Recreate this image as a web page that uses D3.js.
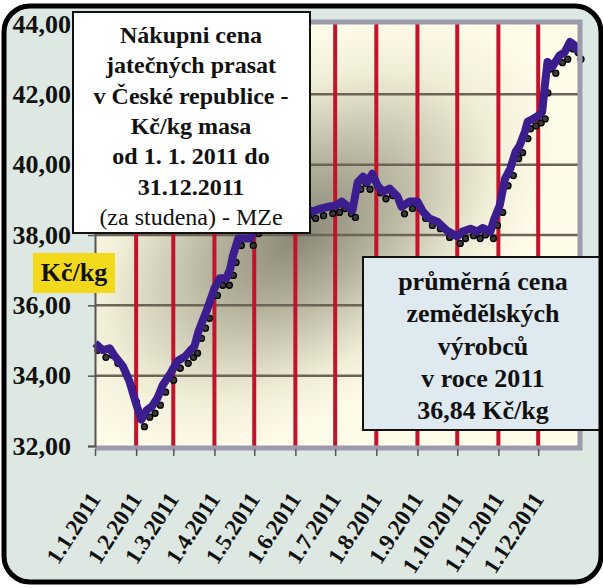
<!DOCTYPE html>
<html lang="cs">
	<head>
		<meta charset="utf-8">
		<title>Nákupní cena jatečných prasat 2011</title>
		<script type="text/javascript" src="https://cdn.jsdelivr.net/npm/d3@7"></script>
		<style type="text/css">
			body { margin: 0; background: #ffffff; }
			text { font-family: "Liberation Serif", "Times New Roman", serif; font-weight: bold; fill: #111; }
		</style>
	</head>
	<body>
		<script type="text/javascript">

			//Width and height
			var w = 603;
			var h = 588;

			//month tick labels
			var monthLabels = ["1.1.2011", "1.2.2011", "1.3.2011", "1.4.2011", "1.5.2011", "1.6.2011",
							   "1.7.2011", "1.8.2011", "1.9.2011", "1.10.2011", "1.11.2011", "1.12.2011"];
			var monthStarts = ["2011-01-01", "2011-02-01", "2011-03-01", "2011-04-01", "2011-05-01", "2011-06-01",
							   "2011-07-01", "2011-08-01", "2011-09-01", "2011-10-01", "2011-11-01", "2011-12-01"];

			var yTicks = [32, 34, 36, 38, 40, 42, 44];

			//price, Kč/kg (a few days apart)
			var priceDates = ["2011-01-01", "2011-01-07", "2011-01-12", "2011-01-16", "2011-01-22", "2011-01-27", "2011-01-30",
							  "2011-02-02", "2011-02-05", "2011-02-09", "2011-02-13", "2011-02-17", "2011-02-21", "2011-02-27",
							  "2011-03-04", "2011-03-10", "2011-03-14", "2011-03-17", "2011-03-20", "2011-03-23", "2011-03-26",
							  "2011-04-01", "2011-04-05", "2011-04-10", "2011-04-13", "2011-04-15", "2011-04-19", "2011-04-28",
							  "2011-05-02", "2011-05-04", "2011-05-09", "2011-05-14", "2011-05-19", "2011-05-24", "2011-05-30",
							  "2011-06-04", "2011-06-09", "2011-06-14", "2011-06-20", "2011-06-27",
							  "2011-07-02", "2011-07-06", "2011-07-11", "2011-07-14", "2011-07-18", "2011-07-22", "2011-07-25", "2011-07-29",
							  "2011-08-02", "2011-08-06", "2011-08-11", "2011-08-17", "2011-08-20", "2011-08-26",
							  "2011-09-01", "2011-09-05", "2011-09-10", "2011-09-16", "2011-09-23",
							  "2011-10-01", "2011-10-05", "2011-10-11", "2011-10-16", "2011-10-20", "2011-10-26", "2011-10-29",
							  "2011-11-02", "2011-11-06", "2011-11-10", "2011-11-14", "2011-11-17", "2011-11-21", "2011-11-23", "2011-11-27",
							  "2011-12-01", "2011-12-04", "2011-12-06", "2011-12-08", "2011-12-12", "2011-12-17", "2011-12-21", "2011-12-25",
							  "2011-12-29", "2011-12-31"];
			var prices = [34.92, 34.72, 34.78, 34.55, 34.27, 33.84, 33.45,
						  33.08, 32.75, 33.02, 33.13, 33.36, 33.73, 34.07,
						  34.41, 34.55, 34.72, 34.84, 35.26, 35.55, 35.83,
						  36.48, 36.77, 36.77, 37.05, 37.42, 37.90, 37.90,
						  38.24, 38.67, 38.75, 38.80, 38.72, 38.78, 38.85,
						  38.80, 38.75, 38.67, 38.75, 38.81,
						  38.84, 38.95, 38.80, 38.70, 39.50, 39.66, 39.50, 39.74,
						  39.40, 39.23, 39.32, 39.09, 38.80, 38.95,
						  38.95, 38.67, 38.47, 38.38, 38.13,
						  37.96, 38.10, 38.18, 38.10, 38.20, 38.10, 38.47,
						  38.84, 39.60, 39.89, 40.37, 40.54, 40.94, 41.22, 41.30,
						  41.39, 41.50, 42.24, 42.92, 42.80, 43.10, 43.20, 43.49,
						  43.38, 43.20];

			var titleLines = ["Nákupni cena", "jatečných prasat", "v České republice -", "Kč/kg masa",
							  "od 1. 1. 2011 do", "31.12.2011", "(za studena) - MZe"];
			var noteLines = ["průměrná cena", "zemědělských", "výrobců", "v roce 2011", "36,84 Kč/kg"];

			var parseDate = d3.timeParse("%Y-%m-%d");
			var data = priceDates.map(function(d, i) {
				return { date: parseDate(d), value: prices[i] };
			});

			//Create SVG element
			var svg = d3.select("body")
						.append("svg")
						.attr("width", w)
						.attr("height", h);

			var xScale = d3.scaleTime()
						   .domain([parseDate("2011-01-01"), parseDate("2011-12-31")])
						   .range([95, 578]);

			var yScale = d3.scaleLinear()
						   .domain([32, 44])
						   .range([446, 24]);

			var x0 = xScale.range()[0], x1 = xScale.range()[1];
			var yTop = yScale(44), yBot = yScale(32);

			//gradient for the shaded plot background
			var defs = svg.append("defs");
			var grad = defs.append("radialGradient")
						   .attr("id", "shade")
						   .attr("gradientUnits", "userSpaceOnUse")
						   .attr("cx", 300).attr("cy", 235).attr("r", 230)
						   .attr("gradientTransform", "translate(300,235) rotate(-35) scale(1.25,0.75) translate(-300,-235)");
			grad.append("stop").attr("offset", "0%").attr("stop-color", "#8a8775");
			grad.append("stop").attr("offset", "35%").attr("stop-color", "#b6b39f");
			grad.append("stop").attr("offset", "75%").attr("stop-color", "#f0edd7");
			grad.append("stop").attr("offset", "100%").attr("stop-color", "#fffbe9");

			//outer background
			svg.append("rect")
			   .attr("x", 4).attr("y", 6)
			   .attr("width", 597).attr("height", 576)
			   .attr("rx", 26)
			   .attr("fill", "#dde8e3");

			//plot background
			svg.append("rect")
			   .attr("x", x0).attr("y", yTop)
			   .attr("width", x1 - x0).attr("height", yBot - yTop)
			   .attr("fill", "url(#shade)");

			//horizontal grid
			svg.selectAll("line.grid")
			   .data(yTicks.slice(1, -1))
			   .enter()
			   .append("line")
			   .attr("class", "grid")
			   .attr("x1", x0).attr("x2", x1)
			   .attr("y1", function(d) { return yScale(d); })
			   .attr("y2", function(d) { return yScale(d); })
			   .attr("stroke", "#6d6457")
			   .attr("stroke-width", 2.5);

			//red month lines
			svg.selectAll("line.month")
			   .data(monthStarts.slice(1))
			   .enter()
			   .append("line")
			   .attr("class", "month")
			   .attr("x1", function(d) { return xScale(parseDate(d)); })
			   .attr("x2", function(d) { return xScale(parseDate(d)); })
			   .attr("y1", yTop).attr("y2", yBot)
			   .attr("stroke", "#c2132b")
			   .attr("stroke-width", 4);

			//markers, sitting a little under the line
			svg.append("g")
			   .attr("transform", "translate(3,7)")
			   .selectAll("circle")
			   .data(data)
			   .enter()
			   .append("circle")
			   .attr("cx", function(d) { return xScale(d.date); })
			   .attr("cy", function(d) { return yScale(d.value); })
			   .attr("r", 3)
			   .attr("fill", "#3a3a3a")
			   .attr("stroke", "#000")
			   .attr("stroke-width", 1.3);

			var line = d3.line()
						 .x(function(d) { return xScale(d.date); })
						 .y(function(d) { return yScale(d.value); });

			svg.append("path")
			   .datum(data)
			   .attr("d", line)
			   .attr("fill", "none")
			   .attr("stroke", "#3b1d8e")
			   .attr("stroke-width", 8)
			   .attr("stroke-linejoin", "round");

			//plot frame (grey, top/right/bottom)
			svg.append("path")
			   .attr("d", "M" + x0 + "," + (yTop - 2) + "H" + (x1 + 2) + "V" + (yBot + 2) + "H" + x0)
			   .attr("fill", "none")
			   .attr("stroke", "#9b9bab")
			   .attr("stroke-width", 5);

			//y axis
			var yAxis = d3.axisLeft(yScale)
						  .tickValues(yTicks)
						  .tickSize(7)
						  .tickPadding(17)
						  .tickFormat(function(d) { return d3.format(".2f")(d).replace(".", ","); });
			var gy = svg.append("g")
						.attr("transform", "translate(" + x0 + ",0)")
						.call(yAxis);
			gy.select(".domain").attr("stroke", "#555").attr("stroke-width", 2);
			gy.selectAll(".tick line").attr("stroke", "#555").attr("stroke-width", 1.5);
			gy.selectAll(".tick text")
			  .attr("font-size", "26px")
			  .attr("font-family", "Liberation Serif, Times New Roman, serif")
			  .attr("font-weight", "bold")
			  .attr("fill", "#111");

			//x axis
			var xAxis = d3.axisBottom(xScale)
						  .tickValues(monthStarts.map(parseDate))
						  .tickSize(7)
						  .tickFormat(function(d, i) { return monthLabels[i]; });
			var gx = svg.append("g")
						.attr("transform", "translate(0," + (yBot + 3) + ")")
						.call(xAxis);
			gx.select(".domain").remove();
			gx.selectAll(".tick line").attr("stroke", "#555").attr("stroke-width", 1.5);
			gx.selectAll(".tick text")
			  .attr("font-size", "23px")
			  .attr("font-family", "Liberation Serif, Times New Roman, serif")
			  .attr("font-weight", "bold")
			  .attr("fill", "#111")
			  .attr("text-anchor", "end")
			  .attr("dy", null)
			  .attr("y", 0)
			  .attr("transform", "translate(6,50) rotate(-57)");

			//unit label
			svg.append("rect")
			   .attr("x", 33).attr("y", 253)
			   .attr("width", 82).attr("height", 40)
			   .attr("fill", "#f3d91c");
			svg.append("text")
			   .attr("x", 74).attr("y", 281)
			   .attr("text-anchor", "middle")
			   .attr("font-size", "26px")
			   .text("Kč/kg");

			//title box
			svg.append("rect")
			   .attr("x", 73).attr("y", 12)
			   .attr("width", 237).attr("height", 221)
			   .attr("fill", "#ffffff")
			   .attr("stroke", "#111")
			   .attr("stroke-width", 2);
			svg.selectAll("text.title")
			   .data(titleLines)
			   .enter()
			   .append("text")
			   .attr("class", "title")
			   .attr("x", 191)
			   .attr("y", function(d, i) { return 43 + i * 30.3; })
			   .attr("text-anchor", "middle")
			   .attr("font-size", "24px")
			   .style("font-weight", function(d, i) { return i === titleLines.length - 1 ? "normal" : "bold"; })
			   .text(function(d) { return d; });

			//average price box
			svg.append("rect")
			   .attr("x", 363).attr("y", 257)
			   .attr("width", 245).attr("height", 173)
			   .attr("fill", "#dfeaf0")
			   .attr("stroke", "#111")
			   .attr("stroke-width", 2);
			svg.selectAll("text.note")
			   .data(noteLines)
			   .enter()
			   .append("text")
			   .attr("class", "note")
			   .attr("x", 483)
			   .attr("y", function(d, i) { return 290 + i * 32.3; })
			   .attr("text-anchor", "middle")
			   .attr("font-size", "26px")
			   .text(function(d) { return d; });

			//outer frame
			svg.append("rect")
			   .attr("x", 4).attr("y", 6)
			   .attr("width", 597).attr("height", 576)
			   .attr("rx", 26)
			   .attr("fill", "none")
			   .attr("stroke", "#000")
			   .attr("stroke-width", 5);

		</script>
	</body>
</html>
